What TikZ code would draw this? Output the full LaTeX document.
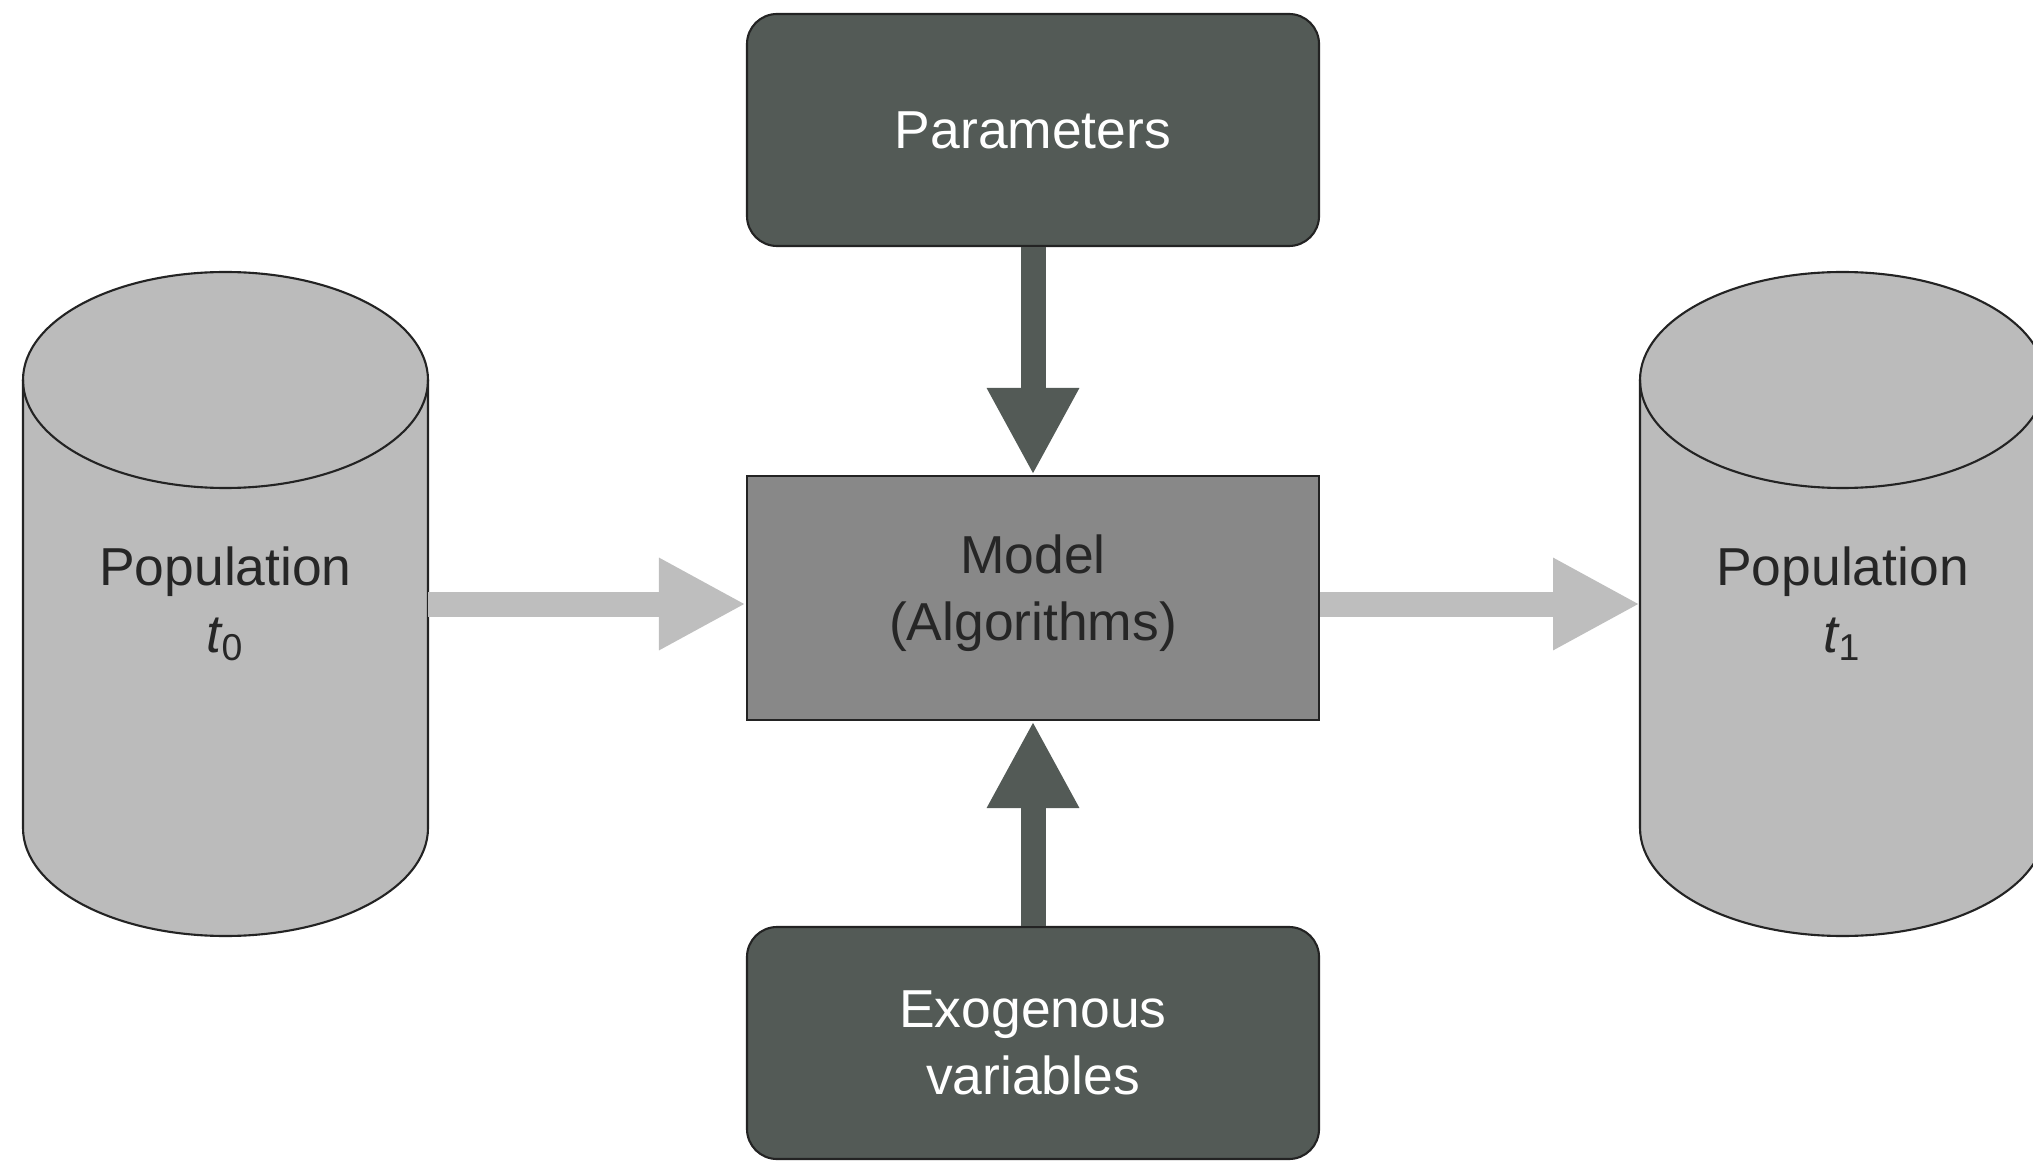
\documentclass[tikz,border=0pt]{standalone}
\usepackage{fontspec}
\setmainfont{Liberation Sans}
\usetikzlibrary{arrows.meta,backgrounds}
\definecolor{darkbox}{RGB}{83,90,86}
\definecolor{modelgray}{RGB}{136,136,136}
\definecolor{popgray}{RGB}{187,187,187}
\definecolor{flowgray}{RGB}{190,190,190}
\definecolor{edgegray}{RGB}{35,35,35}

\begin{document}
\begin{tikzpicture}[
    font=\fontsize{15.2}{19}\selectfont,
    inbox/.style={draw=edgegray, line width=0.6pt, fill=darkbox, text=white,
      rounded corners=0.3cm, minimum width=5.72cm, minimum height=2.32cm, align=center},
    modelbox/.style={draw=edgegray, line width=0.6pt, fill=modelgray, text=black!85,
      minimum width=5.72cm, minimum height=2.44cm, align=center, text depth=6pt},
    popnode/.style={minimum width=4.05cm, minimum height=6.64cm, inner sep=0pt,
      outer sep=0pt, align=center, text=black!85},
    popwall/.style={draw=edgegray, line width=0.6pt, fill=popgray},
    lid/.style={x radius=2.025cm, y radius=1.08cm}]
  \useasboundingbox (0,0) rectangle (20.33,11.60);

  \node[inbox] (params) at (10.33,10.30) {Parameters};
  \node[modelbox] (model) at (10.33,5.62) {Model\\(Algorithms)};
  \node[inbox] (exog) at (10.33,1.17) {Exogenous\\variables};
  \node[popnode] (pop0) at (2.255,5.56) {Population\\{\itshape t}\textsubscript{0}};
  \node[popnode] (pop1) at (18.425,5.56) {Population\\{\itshape t}\textsubscript{1}};

  % the two population stores
  \begin{scope}[on background layer]
    \foreach \p in {pop0,pop1} {
      \filldraw[popwall] ([yshift=-1.08cm]\p.north west) -- ([yshift=1.08cm]\p.south west)
        arc[start angle=180, end angle=360, lid] -- ([yshift=-1.08cm]\p.north east)
        arc[start angle=0, end angle=180, lid] -- cycle;
      \draw[popwall, fill=none] ([yshift=-1.08cm]\p.north west)
        arc[start angle=180, end angle=360, lid];
    }
  \end{scope}

  % flows into and out of the model
  \begin{scope}[line width=0.25cm, -{Triangle[width=0.86cm,length=0.87cm]}]
    \draw[darkbox] (params) -- (model);
    \draw[darkbox] (exog) -- (model);
    \draw[flowgray] (pop0.east) -- (pop0.east -| model.west);
    \draw[flowgray] (pop1.west -| model.east) -- (pop1.west);
  \end{scope}
\end{tikzpicture}
\end{document}
